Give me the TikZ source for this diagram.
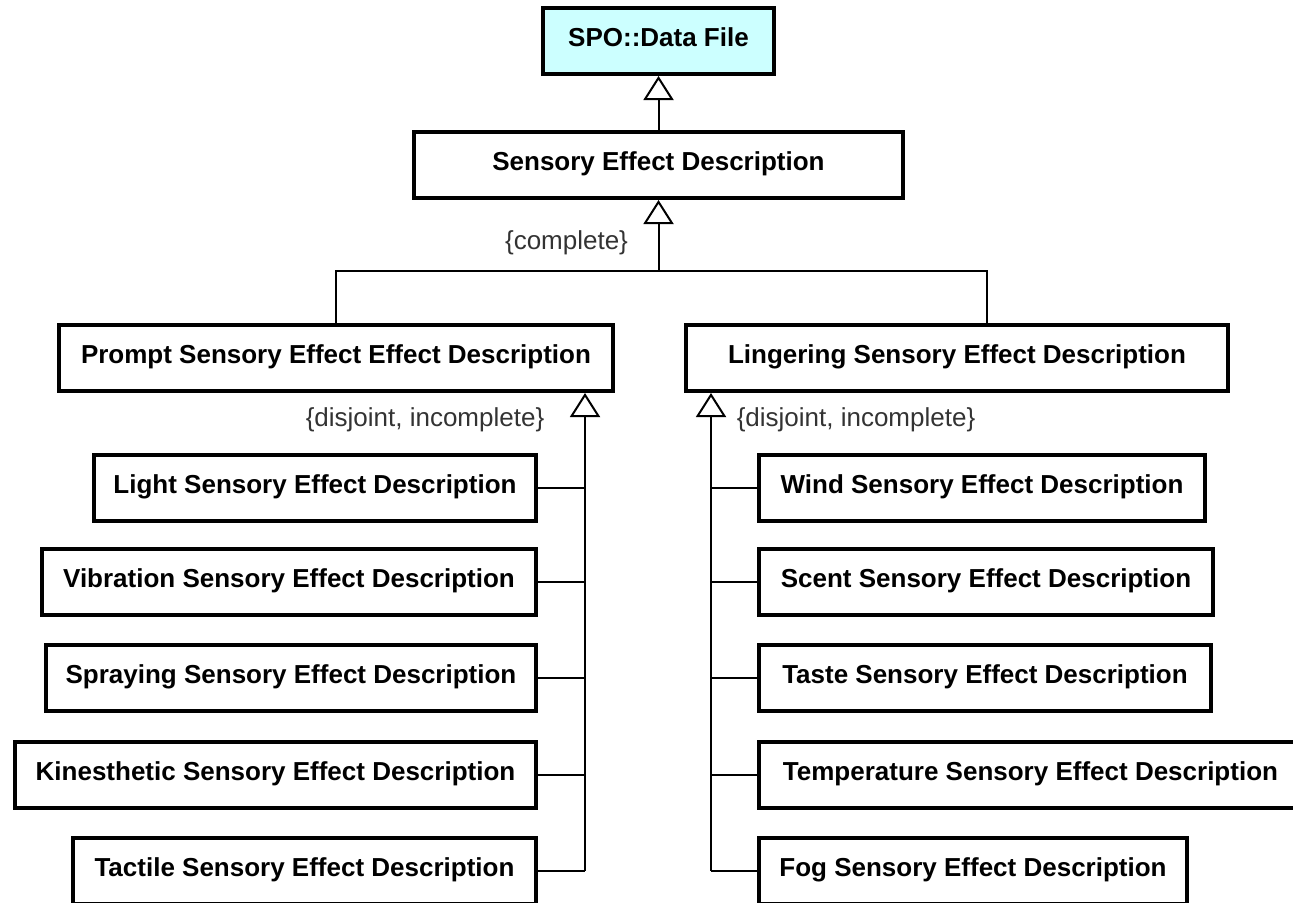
\documentclass[tikz,border=0pt]{standalone}
\usepackage{fontspec}
\setmainfont{Liberation Sans}
\usetikzlibrary{arrows.meta}
\usetikzlibrary{positioning}
\usetikzlibrary{calc}

\definecolor{filecyan}{RGB}{204,255,255}

\tikzset{
  cls/.style={draw, line width=2pt, fill=white, inner sep=0pt, minimum height=33pt,
    text height=9.5pt, text depth=4.5pt, font=\fontsize{13}{15}\selectfont\bfseries},
  constr/.style={font=\fontsize{13}{15}\selectfont, text=black!80, inner sep=0pt},
  gen/.style={-{Triangle[open, length=12pt, width=15pt, line width=1pt]}, line width=1pt},
  link/.style={line width=1pt}
}

\begin{document}
\begin{tikzpicture}[x=0.5pt, y=-0.5pt]

    \useasboundingbox (0,0) rectangle (1293,902);
    \clip (0,0) rectangle (1293,902);

    % upper classes
    \node[cls, fill=filecyan, minimum width=115.5pt] (spo)    at (658.5,41)  {SPO::Data File};
    \node[cls, minimum width=244.5pt]               (sed)    at (658.5,165) {Sensory Effect Description};
    \node[cls, minimum width=277pt]                 (prompt) at (336,358)   {Prompt Sensory Effect Effect Description};
    \node[cls, minimum width=271pt]                 (linger) at (957,358)   {Lingering Sensory Effect Description};

    % prompt effects
    \node[cls, minimum width=221pt]   (light) at (315,488)   {Light Sensory Effect Description};
    \node[cls, minimum width=247pt]   (vib)   at (289,582)   {Vibration Sensory Effect Description};
    \node[cls, minimum width=245pt]   (spray) at (291,678)   {Spraying Sensory Effect Description};
    \node[cls, minimum width=260.5pt] (kin)   at (275.5,775) {Kinesthetic Sensory Effect Description};
    \node[cls, minimum width=231.5pt] (tact)  at (304.5,871) {Tactile Sensory Effect Description};

    % lingering effects
    \node[cls, minimum width=223pt]   (wind)  at (982,488)    {Wind Sensory Effect Description};
    \node[cls, minimum width=227pt]   (scent) at (986,582)    {Scent Sensory Effect Description};
    \node[cls, minimum width=226pt]   (taste) at (985,678)    {Taste Sensory Effect Description};
    \node[cls, minimum width=271.5pt] (temp)  at (1030.5,775) {Temperature Sensory Effect Description};
    \node[cls, minimum width=214pt]   (fog)   at (973,871)    {Fog Sensory Effect Description};

    % generalisation sets
    \coordinate (fork)   at (658.5,271);
    \coordinate (ljoin)  at (987,271);
    \coordinate (ltrunk) at (585,871);
    \coordinate (rtrunk) at (711,871);

    \draw[gen] (sed.north) -- (spo.south);
    \draw[gen] (fork) -- (sed.south);
    \draw[link] (prompt.north) |- (fork) -- (ljoin) -- (ljoin |- linger.north);

    \draw[gen] (ltrunk) -- (ltrunk |- prompt.south);
    \foreach \c in {light, vib, spray, kin, tact}
        \draw[link] (\c.east) -- (\c.east -| ltrunk);

    \draw[gen] (rtrunk) -- (rtrunk |- linger.south);
    \foreach \c in {wind, scent, taste, temp, fog}
        \draw[link] (\c.west) -- (\c.west -| rtrunk);

    % constraints
    \node[constr] (cmpl)   at (566.5,243) {\{complete\}};
    \node[constr] (disjl)  at (425,420)   {\{disjoint, incomplete\}};
    \node[constr] (disjr)  at (856,420)   {\{disjoint, incomplete\}};

\end{tikzpicture}
\end{document}
